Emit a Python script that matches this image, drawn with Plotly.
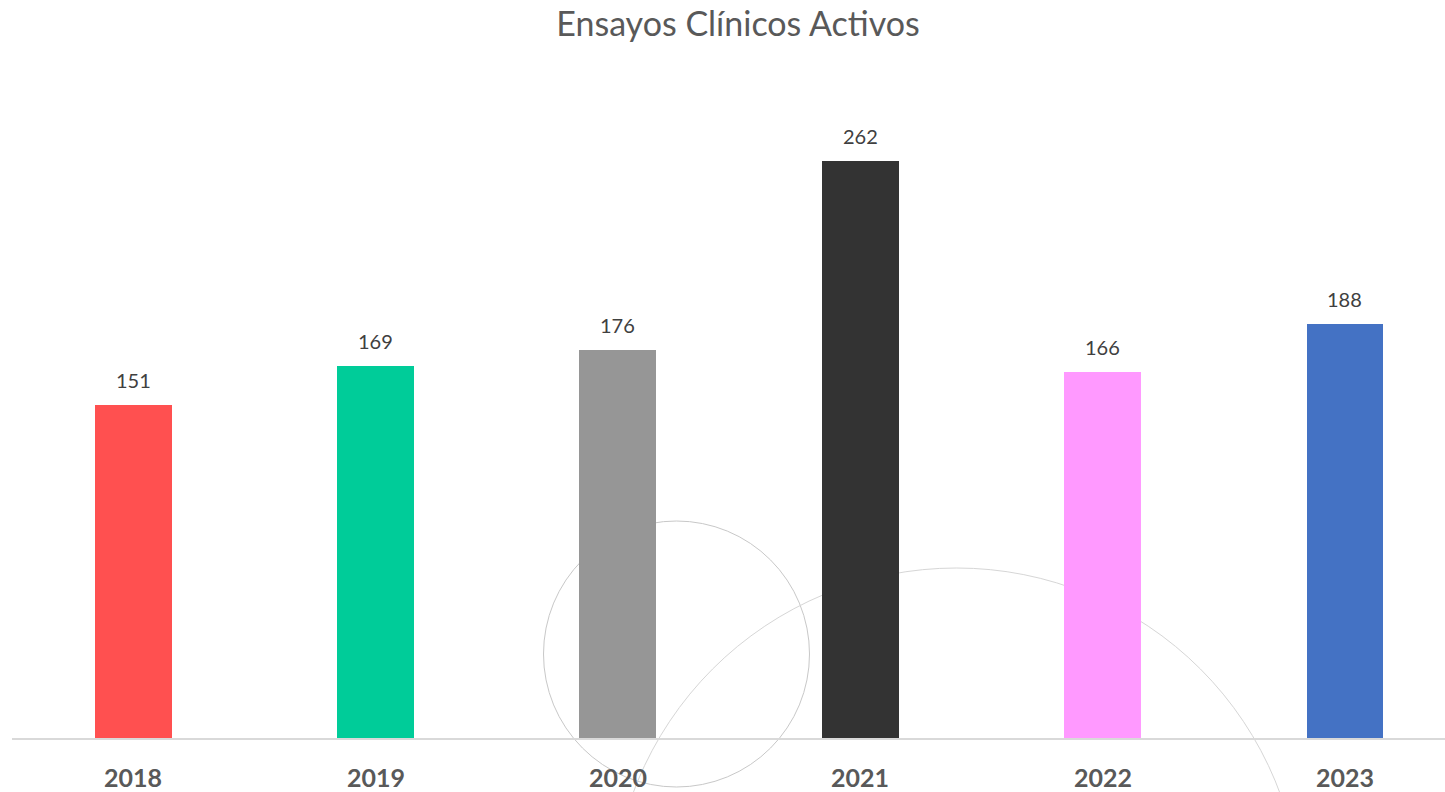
import plotly.graph_objects as go

years = ["2018", "2019", "2020", "2021", "2022", "2023"]
values = [151, 169, 176, 262, 166, 188]
colors = ["#FF5050", "#00CC99", "#969696", "#333333", "#FF99FF", "#4472C4"]
title_text = "Ensayos Clínicos Activos"

W, H = 1445, 792
L, R, T, B = 12, 0, 80, 54

xpos = list(range(len(years)))

fig = go.Figure()
fig.add_trace(go.Bar(
    x=xpos, y=values, marker=dict(color=colors, line=dict(width=0)),
    width=0.317, hoverinfo="skip", showlegend=False,
))

for xi, v in zip(xpos, values):
    fig.add_annotation(x=xi, y=v, text=str(v), showarrow=False,
                       yanchor="middle", yshift=25,
                       font=dict(family="Lato, Open Sans, sans-serif", size=20, color="#404040"))

for xi, lab in zip(xpos, years):
    fig.add_annotation(x=xi, y=0, yref="paper", text="<b>" + lab + "</b>", showarrow=False,
                       yanchor="middle", yshift=-39,
                       font=dict(family="Lato, Open Sans, sans-serif", size=25, color="#595959"))

# decorative circles (paper coordinates)
pw = W - L - R
ph = H - T - B
def px(x):
    return (x - L) / pw
def py(y):
    return (H - B - y) / ph

fig.add_shape(type="circle", xref="paper", yref="paper", layer="below",
              x0=px(543.5), x1=px(809.5), y0=py(787), y1=py(521),
              line=dict(color="#C8C8C8", width=1))
fig.add_shape(type="circle", xref="paper", yref="paper", layer="below",
              x0=px(611.5), x1=px(1301.5), y0=py(1258), y1=py(568),
              line=dict(color="#D6D6D6", width=1))

fig.update_layout(
    width=W, height=H,
    margin=dict(l=L, r=R, t=T, b=B, autoexpand=False),
    paper_bgcolor="white", plot_bgcolor="rgba(0,0,0,0)",
    title=dict(text=title_text, x=738 / W, xanchor="center", y=1 - 24 / H, yanchor="middle",
               font=dict(family="Lato, Open Sans, sans-serif", size=34, color="#595959")),
    xaxis=dict(range=[-0.5, 5.413], showticklabels=False, showgrid=False,
               zeroline=False, showline=True, linecolor="#D9D9D9", linewidth=2,
               ticks="", automargin=False),
    yaxis=dict(range=[0, 298.8], showgrid=False, zeroline=False, showticklabels=False,
               showline=False, ticks="", automargin=False),
    bargap=0,
)

fig.write_html("out.html", config={"displayModeBar": False},
               post_script="document.body.style.margin='0';document.body.style.overflow='hidden';")
